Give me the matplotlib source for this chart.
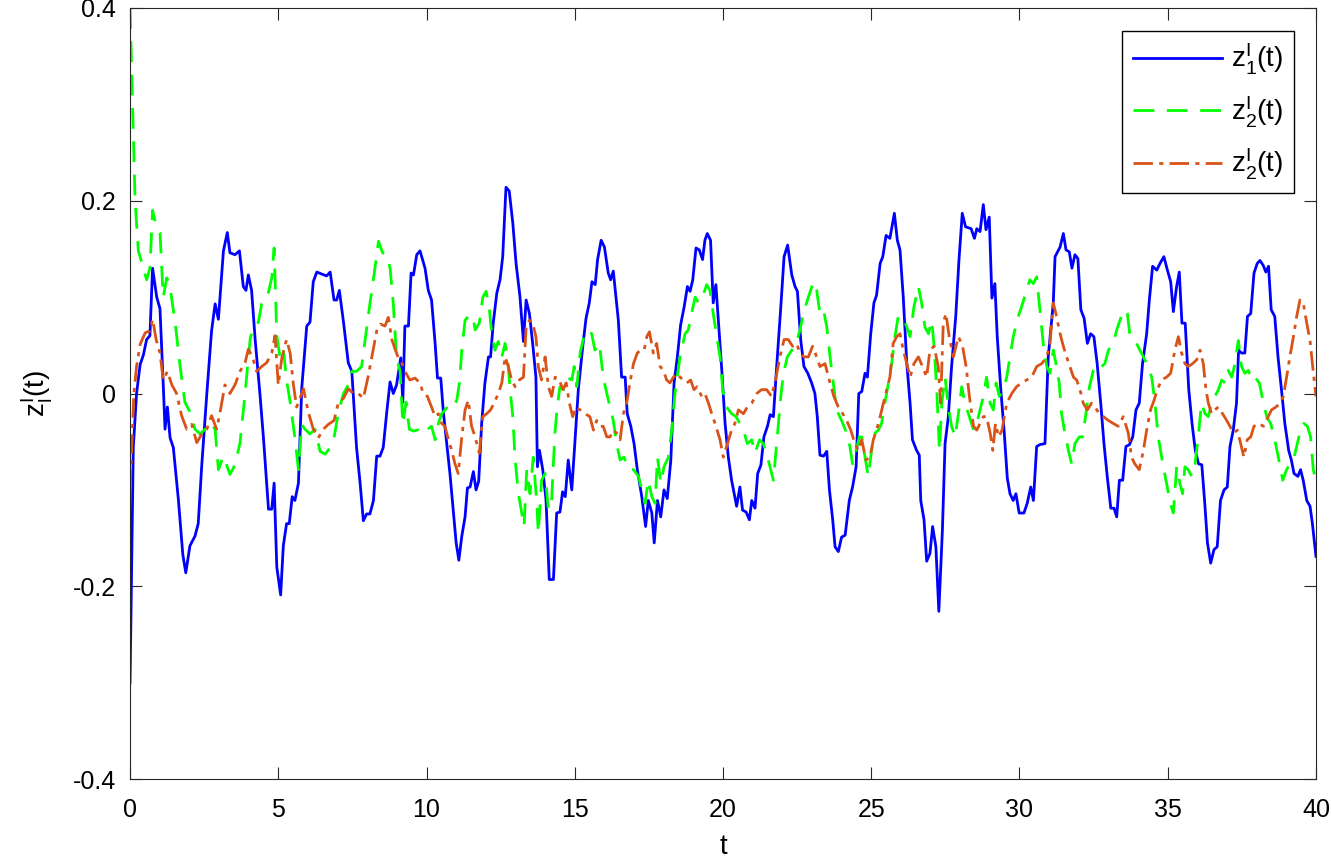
import matplotlib
matplotlib.use('Agg')
import matplotlib.pyplot as plt

plt.rcParams['font.family'] = ['Liberation Sans', 'DejaVu Sans']
plt.rcParams['mathtext.fontset'] = 'custom'
plt.rcParams['mathtext.rm'] = 'Liberation Sans'
plt.rcParams['lines.scale_dashes'] = False

# ---- data ----
t_z1 = [0, 0.11, 0.22, 0.34, 0.45, 0.56, 0.67, 0.76, 0.9, 1.01, 1.12, 1.18, 1.26, 1.35, 1.46, 1.63,
        1.78, 1.88, 2.02, 2.19, 2.3, 2.42, 2.59, 2.75, 2.87, 2.98, 3.15, 3.28, 3.37, 3.54, 3.69, 3.82,
        3.91, 3.99, 4.10, 4.22, 4.38, 4.5, 4.67, 4.78, 4.86, 4.95, 5.08, 5.17, 5.28, 5.37, 5.47, 5.56,
        5.68, 5.79, 5.96, 6.07, 6.18, 6.3, 6.46, 6.63, 6.75, 6.88, 6.97, 7.06, 7.2, 7.36, 7.48, 7.64,
        7.76, 7.87, 7.98, 8.09, 8.21, 8.32, 8.43, 8.54, 8.66, 8.77, 8.88, 8.99, 9.13, 9.2, 9.27, 9.39,
        9.48, 9.56, 9.67, 9.78, 9.95,
        10.06, 10.17, 10.29, 10.37, 10.48, 10.57, 10.68, 10.79, 10.9, 11.0, 11.09, 11.19, 11.3, 11.38,
        11.47, 11.58, 11.67, 11.76, 11.86, 11.97, 12.09, 12.16, 12.25, 12.37, 12.48, 12.57, 12.68,
        12.79, 12.91, 13.02, 13.15, 13.27, 13.36, 13.47, 13.58, 13.69, 13.74, 13.81, 13.92, 14.03,
        14.14, 14.28, 14.39, 14.5, 14.59, 14.68, 14.78, 14.9, 15.01, 15.12, 15.27, 15.38, 15.49, 15.58,
        15.69, 15.77, 15.89, 16.0, 16.13, 16.21, 16.3, 16.47, 16.58, 16.7, 16.77, 16.89, 17.0, 17.11,
        17.26, 17.39, 17.48, 17.6, 17.68, 17.79, 17.9, 18.01, 18.12, 18.24, 18.35, 18.46, 18.57, 18.69,
        18.8, 18.89, 18.98, 19.09, 19.2, 19.31, 19.39, 19.47, 19.58, 19.67, 19.76,
        19.88, 19.96, 20.07, 20.18, 20.29, 20.46, 20.57, 20.66, 20.78, 20.89, 20.97, 21.08, 21.17,
        21.28, 21.38, 21.5, 21.59, 21.7, 21.81, 21.95, 22.06, 22.18, 22.32, 22.43, 22.51, 22.62, 22.73,
        22.86, 22.99, 23.1, 23.18, 23.27, 23.39, 23.5, 23.59, 23.7, 23.78, 23.89, 24.0, 24.12, 24.26,
        24.37, 24.49, 24.58, 24.68, 24.79, 24.87, 24.98, 25.09, 25.18, 25.3, 25.39, 25.5, 25.63, 25.78,
        25.88, 25.97, 26.08, 26.2, 26.31, 26.39, 26.53, 26.62, 26.67, 26.78, 26.87, 26.98, 27.07, 27.18,
        27.28, 27.4, 27.49, 27.6, 27.71, 27.85, 27.96, 28.07, 28.18, 28.37, 28.48, 28.56, 28.67, 28.78,
        28.87, 28.98, 29.07, 29.17, 29.25, 29.37, 29.48, 29.59,
        29.68, 29.79, 29.88, 29.99, 30.15, 30.26, 30.38, 30.47, 30.58, 30.69, 30.86, 30.97, 31.14, 31.2,
        31.37, 31.48, 31.57, 31.68, 31.77, 31.87, 31.97, 32.07, 32.18, 32.29, 32.4, 32.51, 32.62, 32.74,
        32.85, 32.96, 33.08, 33.19, 33.28, 33.37, 33.48, 33.59, 33.71, 33.82, 33.93, 34.04, 34.15, 34.29,
        34.38, 34.49, 34.63, 34.74, 34.87, 34.99, 35.1, 35.19, 35.3, 35.39, 35.48, 35.59, 35.71, 35.82,
        35.93, 36.04, 36.15, 36.25, 36.34, 36.45, 36.56, 36.67, 36.78, 36.9, 37.01, 37.1, 37.21, 37.32,
        37.39, 37.49, 37.6, 37.69, 37.8, 37.91, 38.02, 38.11, 38.22, 38.31, 38.4, 38.49, 38.61, 38.72,
        38.85, 38.95, 39.08, 39.17, 39.26, 39.39, 39.48, 39.57, 39.69, 39.8, 39.88, 40.0]
z1 = [-0.30, -0.056, 0.0, 0.03, 0.04, 0.056, 0.06, 0.13, 0.10, 0.088, 0.009, -0.037, -0.014, -0.046,
      -0.056, -0.11, -0.167, -0.186, -0.158, -0.148, -0.135, -0.074, 0.0, 0.065, 0.093, 0.077, 0.148,
      0.167, 0.146, 0.144, 0.148, 0.111, 0.107, 0.123, 0.107, 0.056, 0.0, -0.046, -0.12, -0.12, -0.093,
      -0.18, -0.209, -0.158, -0.135, -0.135, -0.107, -0.111, -0.093, 0.005, 0.07, 0.074, 0.116, 0.126,
      0.124, 0.122, 0.126, 0.097, 0.097, 0.107, 0.074, 0.032, 0.023, -0.056, -0.093, -0.132, -0.125,
      -0.125, -0.111, -0.065, -0.065, -0.056, -0.019, 0.012, 0.0, 0.009, 0.037, -0.009, 0.07, 0.07,
      0.125, 0.123, 0.144, 0.148, 0.13,
      0.107, 0.097, 0.052, 0.016, 0.016, -0.020, -0.052, -0.083, -0.121, -0.155, -0.173, -0.148, -0.128,
      -0.098, -0.097, -0.081, -0.100, -0.091, -0.031, 0.011, 0.038, 0.038, 0.073, 0.104, 0.118, 0.142,
      0.214, 0.210, 0.177, 0.135, 0.101, 0.054, 0.097, 0.083, 0.052, 0.017, -0.076, -0.059, -0.079,
      -0.110, -0.193, -0.193, -0.124, -0.123, -0.102, -0.107, -0.069, -0.100, -0.048, 0.004, 0.049,
      0.078, 0.094, 0.116, 0.113, 0.139, 0.159, 0.152, 0.125, 0.118, 0.127, 0.076, 0.017, 0.017, -0.021,
      -0.034, -0.052, -0.079, -0.107, -0.138, -0.111, -0.124, -0.155, -0.111, -0.128, -0.100, -0.109,
      -0.069, 0.011, 0.038, 0.071, 0.090, 0.111, 0.106, 0.118, 0.151, 0.149, 0.139, 0.159, 0.166, 0.159,
      0.094, 0.113,
      0.059, 0.024, -0.031, -0.066, -0.090, -0.117, -0.097, -0.121, -0.123, -0.131, -0.111, -0.119,
      -0.083, -0.074, -0.045, -0.034, -0.022, -0.024, 0.028, 0.090, 0.142, 0.154, 0.123, 0.111, 0.106,
      0.056, 0.028, 0.021, 0.011, 0.0, -0.024, -0.064, -0.065, -0.060, -0.100, -0.131, -0.159, -0.164,
      -0.149, -0.147, -0.111, -0.097, -0.076, 0.0, 0.002, 0.021, 0.017, 0.061, 0.094, 0.102, 0.135,
      0.142, 0.164, 0.161, 0.187, 0.159, 0.149, 0.100, 0.031, -0.010, -0.048, -0.059, -0.064, -0.111,
      -0.131, -0.174, -0.166, -0.138, -0.159, -0.226, -0.142, -0.052, -0.024, 0.028, 0.080, 0.139,
      0.187, 0.173, 0.171, 0.161, 0.171, 0.168, 0.196, 0.170, 0.183, 0.099, 0.114, 0.059, 0.004,
      -0.038, -0.088,
      -0.104, -0.111, -0.104, -0.124, -0.124, -0.114, -0.097, -0.111, -0.055, -0.053, -0.052, 0.038,
      0.094, 0.142, 0.152, 0.166, 0.149, 0.147, 0.130, 0.144, 0.140, 0.087, 0.078, 0.052, 0.062, 0.059,
      0.031, -0.010, -0.052, -0.086, -0.119, -0.119, -0.128, -0.090, -0.090, -0.055, -0.053, -0.045,
      -0.017, -0.010, 0.031, 0.062, 0.097, 0.132, 0.128, 0.135, 0.142, 0.128, 0.116, 0.085, 0.111, 0.126,
      0.073, 0.073, 0.004, -0.031, -0.059, -0.073, -0.074, -0.114, -0.155, -0.176, -0.162, -0.159,
      -0.111, -0.100, -0.097, -0.055, -0.038, -0.010, 0.045, 0.042, 0.042, 0.080, 0.083, 0.125, 0.135,
      0.138, 0.133, 0.126, 0.132, 0.087, 0.080, 0.038, 0.0, -0.031, -0.059, -0.069, -0.083, -0.086,
      -0.079, -0.090, -0.111, -0.117, -0.135, -0.169]

t_z2 = [0, 0.11, 0.17, 0.28, 0.45, 0.56, 0.67, 0.76, 0.9, 1.01, 1.12, 1.24, 1.35, 1.52, 1.69, 1.85,
        2.02, 2.19, 2.36, 2.53, 2.70, 2.87, 2.98, 3.15, 3.37, 3.54, 3.71, 3.88, 4.05, 4.16, 4.33, 4.44,
        4.61, 4.78, 4.86, 4.95, 5.06, 5.17, 5.28, 5.40, 5.56, 5.68, 5.79, 5.90, 6.07, 6.24, 6.41, 6.58,
        6.75, 6.88, 7.03, 7.2, 7.36, 7.48, 7.64, 7.81, 7.93, 8.09, 8.26, 8.38, 8.52, 8.66, 8.77, 8.88,
        8.99, 9.11, 9.2, 9.31, 9.42, 9.56, 9.78,
        9.89, 10.0, 10.17, 10.29, 10.4, 10.51, 10.68, 10.85, 11.02, 11.11, 11.19, 11.3, 11.41, 11.56,
        11.64, 11.78, 11.9, 12.01, 12.12, 12.2, 12.31, 12.42, 12.54, 12.65, 12.73, 12.82, 12.91, 12.99,
        13.1, 13.21, 13.29, 13.38, 13.49, 13.6, 13.72, 13.77, 13.88, 14.0, 14.11, 14.22, 14.33, 14.41,
        14.5, 14.62, 14.73, 14.9, 14.98, 15.07, 15.18, 15.31, 15.46, 15.57, 15.68, 15.83, 15.96, 16.08,
        16.19, 16.3, 16.41, 16.53, 16.66, 16.81, 16.98, 17.15, 17.26, 17.37, 17.48, 17.6, 17.71, 17.79,
        17.9, 18.01, 18.16, 18.27, 18.38, 18.55, 18.72, 18.83, 18.94, 19.06, 19.17, 19.31, 19.45, 19.56,
        19.67, 19.79, 19.9, 19.99, 20.12, 20.29, 20.44, 20.57, 20.69, 20.82, 20.97, 21.08, 21.23, 21.36,
        21.47, 21.61, 21.7, 21.79, 21.87, 21.95, 22.04, 22.17, 22.32, 22.46, 22.6, 22.71, 22.88, 23.05,
        23.16, 23.27, 23.39, 23.5, 23.61, 23.72, 23.83, 24.0, 24.17, 24.28, 24.37, 24.49, 24.6, 24.68,
        24.79, 24.9, 25.01, 25.13, 25.24, 25.35, 25.46, 25.58, 25.69, 25.8, 25.91, 26.06, 26.2, 26.31,
        26.44, 26.59, 26.7, 26.81, 26.93, 27.04, 27.12, 27.21, 27.3, 27.38, 27.49, 27.6, 27.71, 27.83,
        27.94, 28.05, 28.16, 28.31, 28.45, 28.56, 28.67, 28.78, 28.89, 29.01, 29.12, 29.21, 29.32,
        29.45, 29.57, 29.68, 29.79, 29.96, 30.07, 30.24, 30.35, 30.47, 30.58, 30.69, 30.8, 30.92, 31.03,
        31.14, 31.23, 31.34, 31.42, 31.53, 31.65, 31.76, 31.87, 32.02, 32.13, 32.24, 32.36, 32.49, 32.63,
        32.77, 32.88, 33.0, 33.16, 33.28, 33.39, 33.52, 33.64, 33.73, 33.84, 33.95, 34.06, 34.18, 34.29,
        34.46, 34.57, 34.68, 34.85, 34.96, 35.08, 35.19, 35.3, 35.41, 35.5, 35.58, 35.69, 35.81, 35.92,
        36.03, 36.14, 36.26, 36.37, 36.48, 36.59, 36.71, 36.82, 36.93, 37.04, 37.16, 37.27, 37.38, 37.49,
        37.6, 37.72, 37.83, 37.94, 38.09, 38.23, 38.34, 38.47, 38.59, 38.73, 38.88, 39.01, 39.12, 39.24,
        39.37, 39.48, 39.59, 39.71, 39.82, 39.91, 40.0]
z2 = [0.40, 0.27, 0.20, 0.148, 0.13, 0.118, 0.13, 0.19, 0.172, 0.167, 0.10, 0.12, 0.11, 0.074, 0.028,
      -0.009, -0.019, -0.037, -0.042, -0.037, -0.030, -0.037, -0.079, -0.065, -0.084, -0.074, -0.051,
      0.0, 0.056, 0.070, 0.074, 0.093, 0.097, 0.12, 0.151, 0.06, 0.037, 0.046, 0.014, -0.009, -0.046,
      -0.079, -0.032, -0.037, -0.042, -0.037, -0.060, -0.063, -0.056, -0.046, -0.019, 0.0, 0.009, 0.023,
      0.023, 0.028, 0.056, 0.093, 0.13, 0.158, 0.146, 0.144, 0.13, 0.093, 0.037, 0.023, -0.032, -0.009,
      -0.037, -0.039, -0.037,
      -0.041, -0.038, -0.034, -0.048, -0.031, -0.021, -0.015, -0.017, -0.007, 0.011, 0.045, 0.076,
      0.080, 0.081, 0.066, 0.073, 0.100, 0.106, 0.087, 0.062, 0.045, 0.054, 0.038, 0.052, 0.038, 0.004,
      -0.024, -0.069, -0.104, -0.124, -0.138, -0.079, -0.104, -0.066, -0.114, -0.145, -0.090, -0.083,
      -0.121, -0.111, -0.041, -0.014, 0.007, 0.004, 0.017, 0.014, 0.028, 0.007, 0.042, 0.059, 0.066,
      0.062, 0.045, 0.052, 0.017, 0.0, -0.014, -0.028, -0.052, -0.069, -0.066, -0.079, -0.079, -0.086,
      -0.100, -0.114, -0.090, -0.107, -0.114, -0.066, -0.093, -0.076, -0.066, -0.038, 0.0, 0.038, 0.062,
      0.066, 0.083, 0.100, 0.094, 0.100, 0.113, 0.107,
      0.083, 0.059, 0.038, 0.004, -0.014, -0.021, -0.024, -0.031, -0.038, -0.052, -0.048, -0.062,
      -0.048, -0.052, -0.062, -0.079, -0.090, -0.059, -0.031, -0.003, 0.021, 0.038, 0.045, 0.052, 0.066,
      0.083, 0.100, 0.116, 0.107, 0.083, 0.087, 0.069, 0.038, 0.011, -0.017, -0.028, -0.041, -0.055,
      -0.073, -0.059, -0.045, -0.045, -0.066, -0.086, -0.059, -0.041, -0.038, -0.031, -0.010, 0.011,
      0.031, 0.059, 0.080, 0.080, 0.069, 0.059, 0.090, 0.111, 0.094, 0.069, 0.062, 0.076, 0.049, 0.004,
      -0.059, -0.010, 0.017, -0.014, -0.034, -0.045, -0.021, 0.007, -0.010, -0.024, -0.038, -0.031,
      -0.017, -0.003, 0.017, -0.010, -0.017, 0.011, -0.003,
      0.004, 0.017, 0.038, 0.059, 0.080, 0.090, 0.107, 0.118, 0.114, 0.121, 0.087, 0.052, 0.028, 0.021,
      0.045, 0.031, 0.011, -0.021, -0.041, -0.059, -0.073, -0.052, -0.045, -0.045, -0.021, 0.007, 0.024,
      0.031, 0.028, 0.031, 0.045, 0.052, 0.066, 0.076, 0.087, 0.083, 0.059, 0.055, 0.052, 0.045, 0.038,
      0.031, 0.017, -0.010, -0.045, -0.076, -0.093, -0.114, -0.124, -0.076, -0.093, -0.104, -0.076,
      -0.079, -0.086, -0.073, -0.045, -0.010, -0.021, -0.024, -0.010, -0.003, 0.004, 0.014, 0.011, 0.024,
      0.017, 0.031, 0.055, 0.028, 0.021, 0.024, 0.014, 0.017, 0.011, -0.010, -0.024, -0.031, -0.045,
      -0.066, -0.090, -0.079, -0.073, -0.069, -0.052, -0.038, -0.031, -0.034, -0.045, -0.079, -0.090]

t_z3 = [0, 0.06, 0.13, 0.22, 0.34, 0.51, 0.67, 0.76, 0.88, 1.01, 1.12, 1.26, 1.41, 1.57, 1.74, 1.91,
        2.08, 2.25, 2.42, 2.59, 2.75, 2.92, 3.04, 3.2, 3.37, 3.54, 3.71, 3.88, 3.99, 4.14, 4.27, 4.44,
        4.61, 4.78, 4.89, 5.0, 5.12, 5.28, 5.40, 5.51, 5.62, 5.73, 5.85, 6.01, 6.18, 6.35, 6.52, 6.69,
        6.88, 7.03, 7.2, 7.36, 7.53, 7.7, 7.87, 8.04, 8.18, 8.32, 8.45, 8.6, 8.71, 8.83, 8.94, 9.05,
        9.16, 9.27, 9.44, 9.61,
        9.78, 9.89, 10.03, 10.17, 10.29, 10.4, 10.51, 10.62, 10.74, 10.85, 10.96, 11.07, 11.19, 11.3,
        11.41, 11.52, 11.64, 11.78, 11.9, 12.03, 12.16, 12.28, 12.42, 12.54, 12.65, 12.76, 12.87, 12.99,
        13.13, 13.27, 13.36, 13.47, 13.58, 13.69, 13.77, 13.88, 14.0, 14.11, 14.22, 14.34, 14.48, 14.6,
        14.71, 14.82, 14.93, 15.04, 15.18, 15.35, 15.51, 15.63, 15.74, 15.85, 15.96, 16.08, 16.19, 16.3,
        16.41, 16.53, 16.64, 16.75, 16.86, 16.98, 17.11, 17.22, 17.34, 17.43, 17.52, 17.65, 17.76, 17.88,
        17.99, 18.1, 18.21, 18.33, 18.44, 18.55, 18.66, 18.78, 18.91, 19.02, 19.13, 19.28, 19.39, 19.51,
        19.62, 19.73, 19.9, 20.01, 20.12, 20.26, 20.4, 20.52, 20.69, 20.82, 20.97, 21.14, 21.3, 21.47,
        21.64, 21.79, 21.92, 22.06, 22.2, 22.35, 22.48, 22.6, 22.73, 22.88, 23.02, 23.16, 23.27, 23.44,
        23.61, 23.74, 23.89, 24.04, 24.17, 24.31, 24.45, 24.56, 24.68, 24.82, 24.96, 25.07, 25.18, 25.3,
        25.41, 25.52, 25.63, 25.74, 25.86, 25.97, 26.08, 26.2, 26.31, 26.44, 26.59, 26.73, 26.87, 26.98,
        27.12, 27.26, 27.34, 27.43, 27.52, 27.63, 27.77, 27.94, 28.08, 28.2, 28.31, 28.45, 28.56, 28.67,
        28.78, 28.89, 29.01, 29.1, 29.19, 29.3, 29.41,
        29.57, 29.74, 29.9, 30.07, 30.24, 30.41, 30.58, 30.75, 30.92, 31.03, 31.14, 31.25, 31.37, 31.48,
        31.59, 31.7, 31.82, 31.93, 32.04, 32.15, 32.29, 32.43, 32.55, 32.69, 32.83, 33.0, 33.16, 33.33,
        33.5, 33.67, 33.78, 33.89, 34.04, 34.18, 34.29, 34.42, 34.54, 34.65, 34.79, 34.96, 35.1, 35.24,
        35.36, 35.47, 35.58, 35.69, 35.84, 35.98, 36.09, 36.2, 36.29, 36.37, 36.48, 36.59, 36.71, 36.85,
        36.99, 37.1, 37.21, 37.35, 37.46, 37.57, 37.68, 37.8, 37.91, 38.06, 38.23, 38.39, 38.5, 38.65,
        38.79, 38.9, 39.01, 39.12, 39.24, 39.35, 39.46, 39.57, 39.69, 39.8, 39.89, 40.0]
z3 = [-0.10, -0.056, 0.0, 0.028, 0.051, 0.063, 0.065, 0.077, 0.056, 0.042, 0.014, 0.023, 0.009, 0.0,
      -0.023, -0.037, -0.032, -0.051, -0.042, -0.037, -0.023, -0.037, -0.019, 0.009, 0.0, 0.009, 0.023,
      0.032, 0.046, 0.037, 0.023, 0.028, 0.032, 0.042, 0.06, 0.009, 0.037, 0.056, 0.042, 0.009, -0.014,
      -0.005, 0.005, -0.019, -0.037, -0.046, -0.037, -0.032, -0.028, -0.009, -0.005, 0.005, 0.0, 0.0,
      -0.005, 0.019, 0.042, 0.065, 0.072, 0.07, 0.079, 0.056, 0.046, 0.037, 0.032, 0.023, 0.014, 0.016,
      0.011, 0.0, -0.003, -0.014, -0.024, -0.021, -0.031, -0.034, -0.048, -0.059, -0.073, -0.083,
      -0.045, -0.017, -0.007, -0.034, -0.045, -0.062, -0.024, -0.021, -0.017, -0.010, 0.0, 0.011, 0.038,
      0.028, 0.014, 0.007, 0.014, 0.017, 0.069, 0.076, 0.073, 0.059, 0.028, 0.014, 0.038, 0.007, -0.003,
      0.017, 0.014, 0.004, 0.011, -0.010, -0.024, -0.014, -0.017, -0.021, -0.024, -0.038, -0.028,
      -0.034, -0.034, -0.045, -0.045, -0.038, -0.041, -0.048, -0.021, -0.010, 0.011, 0.031, 0.042,
      0.045, 0.045, 0.059, 0.064, 0.042, 0.052, 0.028, 0.024, 0.014, 0.011, 0.017, 0.021, 0.017, 0.014,
      0.011, 0.014, 0.004, 0.007, -0.003, 0.0, -0.010, -0.021, -0.031, -0.048, -0.066, -0.055, -0.041,
      -0.031, -0.017, -0.021, -0.014, -0.010, 0.0, 0.004, 0.004, -0.003, 0.017, 0.038, 0.056, 0.056,
      0.049, 0.052, 0.042, 0.038, 0.038, 0.049, 0.038, 0.028, 0.031, 0.011, -0.003, -0.014, -0.021,
      -0.028, -0.038, -0.052, -0.059, -0.048, -0.069, -0.066, -0.048, -0.038, -0.024, -0.010, 0.004,
      0.017, 0.052, 0.059, 0.062, 0.045, 0.031, 0.017, 0.031, 0.038, 0.028, 0.017, 0.045, 0.049, 0.028,
      -0.010, 0.073, 0.083, 0.059, 0.038, 0.059, 0.049, 0.028, -0.003, -0.034, -0.038, -0.031, -0.024,
      -0.024, -0.041, -0.059, -0.031, -0.045, -0.038,
      -0.010, 0.0, 0.007, 0.011, 0.014, 0.017, 0.028, 0.031, 0.038, 0.052, 0.094, 0.080, 0.062, 0.049,
      0.038, 0.028, 0.017, 0.014, 0.004, -0.010, -0.017, -0.010, -0.014, -0.021, -0.024, -0.028, -0.031,
      -0.034, -0.024, -0.041, -0.066, -0.073, -0.079, -0.059, -0.038, -0.017, -0.007, 0.004, 0.014,
      0.017, 0.021, 0.045, 0.059, 0.042, 0.031, 0.028, 0.031, 0.035, 0.045, 0.031, 0.004, -0.010,
      -0.021, -0.017, -0.014, -0.021, -0.028, -0.034, -0.041, -0.038, -0.052, -0.066, -0.048, -0.045,
      -0.034, -0.031, -0.034, -0.024, -0.017, -0.014, -0.010, -0.003, 0.017, 0.038, 0.059, 0.080, 0.097,
      0.094, 0.073, 0.055, 0.028, -0.003]

x_ticks = [0, 5, 10, 15, 20, 25, 30, 35, 40]
y_ticks = [-0.4, -0.2, 0, 0.2, 0.4]
y_tick_labels = ['-0.4', '-0.2', '0', '0.2', '0.4']
legend_labels = [r'$\mathregular{z_1^I(t)}$', r'$\mathregular{z_2^I(t)}$', r'$\mathregular{z_2^I(t)}$']

# ---- figure ----
fig = plt.figure(figsize=(13.31, 8.59), dpi=100)
ax = fig.add_axes([0.0977, 0.0931, 0.8910, 0.8976])

ax.plot(t_z1, z1, color=(0, 0, 1), lw=2.0, label=legend_labels[0])
ax.plot(t_z2, z2, color=(0, 1, 0), lw=2.0, dashes=(15, 9), label=legend_labels[1])
ax.plot(t_z3, z3, color=(0.85, 0.325, 0.098), lw=2.0, dashes=(14, 4.5, 3, 4.5), label=legend_labels[2])

ax.set_xlim(0, 40)
ax.set_ylim(-0.4, 0.4)
ax.set_xticks(x_ticks)
ax.set_yticks(y_ticks)
ax.set_yticklabels(y_tick_labels)
ax.tick_params(direction='in', top=True, right=True, length=8.5, width=0.8,
               labelsize=18, pad=10, colors='0.15', labelcolor='black')
ax.tick_params(axis='x', pad=14)
for s in ax.spines.values():
    s.set_linewidth(0.8)
    s.set_color('0.15')

ax.set_xlabel('t', fontsize=20, labelpad=8)
ax.set_ylabel(r'$\mathregular{z_l^I(t)}$', fontsize=20, labelpad=13)

leg = ax.legend(loc='upper right', bbox_to_anchor=(0.9815, 0.9705), fontsize=20,
                handlelength=3.2, handletextpad=0.3, labelspacing=0.62, borderpad=0.4,
                fancybox=False, framealpha=1, edgecolor='black', borderaxespad=0)
leg.get_frame().set_linewidth(1.0)

fig.savefig('out.png', dpi=100)
